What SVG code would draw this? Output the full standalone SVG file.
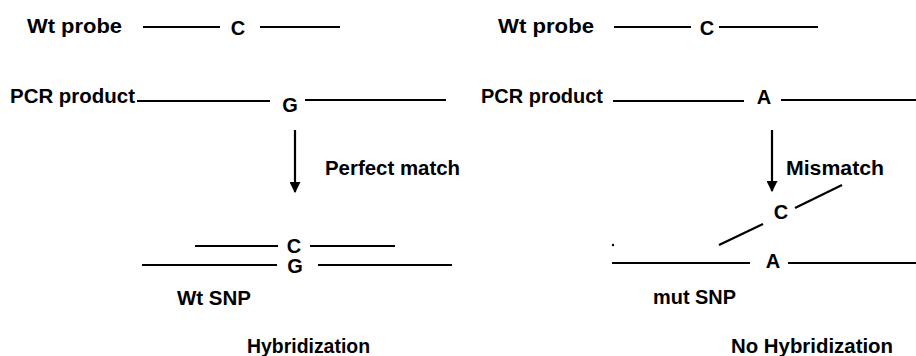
<svg xmlns="http://www.w3.org/2000/svg" width="916" height="356" viewBox="0 0 916 356">
<style>
text{font-family:"Liberation Sans",Arial,sans-serif;font-weight:bold;font-size:20px;fill:#000}
.b{font-size:20px;text-anchor:middle}
.s{stroke:#000;stroke-width:2.2;fill:none}
</style>
<defs>
<marker id="ah" viewBox="0 0 10 10" refX="9" refY="5" markerWidth="5" markerHeight="5" orient="auto" markerUnits="strokeWidth">
<path d="M0,0 L10,5 L0,10 z" fill="#000"/>
</marker>
</defs>
<rect width="916" height="356" fill="#fff"/>
<g id="left-probe">
<text x="27" y="33" textLength="95" lengthAdjust="spacingAndGlyphs">Wt probe</text>
<line class="s" x1="143" y1="27" x2="220" y2="27"/>
<text class="b" x="238" y="35">C</text>
<line class="s" x1="260" y1="27" x2="340" y2="27"/>
</g>
<g id="left-pcr">
<text x="10" y="103" textLength="125" lengthAdjust="spacingAndGlyphs">PCR product</text>
<line class="s" x1="137" y1="101" x2="270" y2="101"/>
<text class="b" x="290" y="112">G</text>
<line class="s" x1="305" y1="100" x2="446" y2="100"/>
</g>
<g id="left-label">
<text x="325" y="175" textLength="135" lengthAdjust="spacingAndGlyphs">Perfect match</text>
</g>
<g id="left-hybrid">
<line class="s" x1="195" y1="246" x2="278" y2="246"/>
<text class="b" x="294" y="253">C</text>
<line class="s" x1="310" y1="246" x2="395" y2="246"/>
<line class="s" x1="142" y1="265" x2="277" y2="265"/>
<text class="b" x="295" y="273">G</text>
<line class="s" x1="318" y1="265" x2="452" y2="265"/>
<text x="177" y="305" textLength="74" lengthAdjust="spacingAndGlyphs">Wt SNP</text>
<text x="247" y="353" textLength="123" lengthAdjust="spacingAndGlyphs">Hybridization</text>
</g>
<g id="right-probe">
<text x="498" y="33" textLength="96" lengthAdjust="spacingAndGlyphs">Wt probe</text>
<line class="s" x1="614" y1="27" x2="691" y2="27"/>
<text class="b" x="707" y="35">C</text>
<line class="s" x1="719" y1="27" x2="818" y2="27"/>
</g>
<g id="right-pcr">
<text x="481" y="103" textLength="122" lengthAdjust="spacingAndGlyphs">PCR product</text>
<line class="s" x1="613" y1="101" x2="744" y2="101"/>
<text class="b" x="764" y="104">A</text>
<line class="s" x1="781" y1="100" x2="916" y2="100"/>
</g>
<g id="right-label">
<text x="786" y="175" textLength="98" lengthAdjust="spacingAndGlyphs">Mismatch</text>
</g>
<g id="right-mismatch">
<text class="b" x="781" y="219">C</text>
<line class="s" x1="795" y1="208" x2="842" y2="185"/>
<line class="s" x1="719" y1="245" x2="763" y2="224"/>
<circle cx="613" cy="245" r="1.2" fill="#000"/>
<line class="s" x1="612" y1="263" x2="750" y2="263"/>
<text class="b" x="773" y="268">A</text>
<line class="s" x1="788" y1="263" x2="916" y2="263"/>
<text x="653" y="304" textLength="83" lengthAdjust="spacingAndGlyphs">mut SNP</text>
<text x="731" y="353" textLength="162" lengthAdjust="spacingAndGlyphs">No Hybridization</text>
</g>
<g id="connectors">
<line class="s" x1="295" y1="130" x2="295" y2="192" marker-end="url(#ah)"/>
<line class="s" x1="772" y1="130" x2="772" y2="191" marker-end="url(#ah)"/>
</g>
</svg>
